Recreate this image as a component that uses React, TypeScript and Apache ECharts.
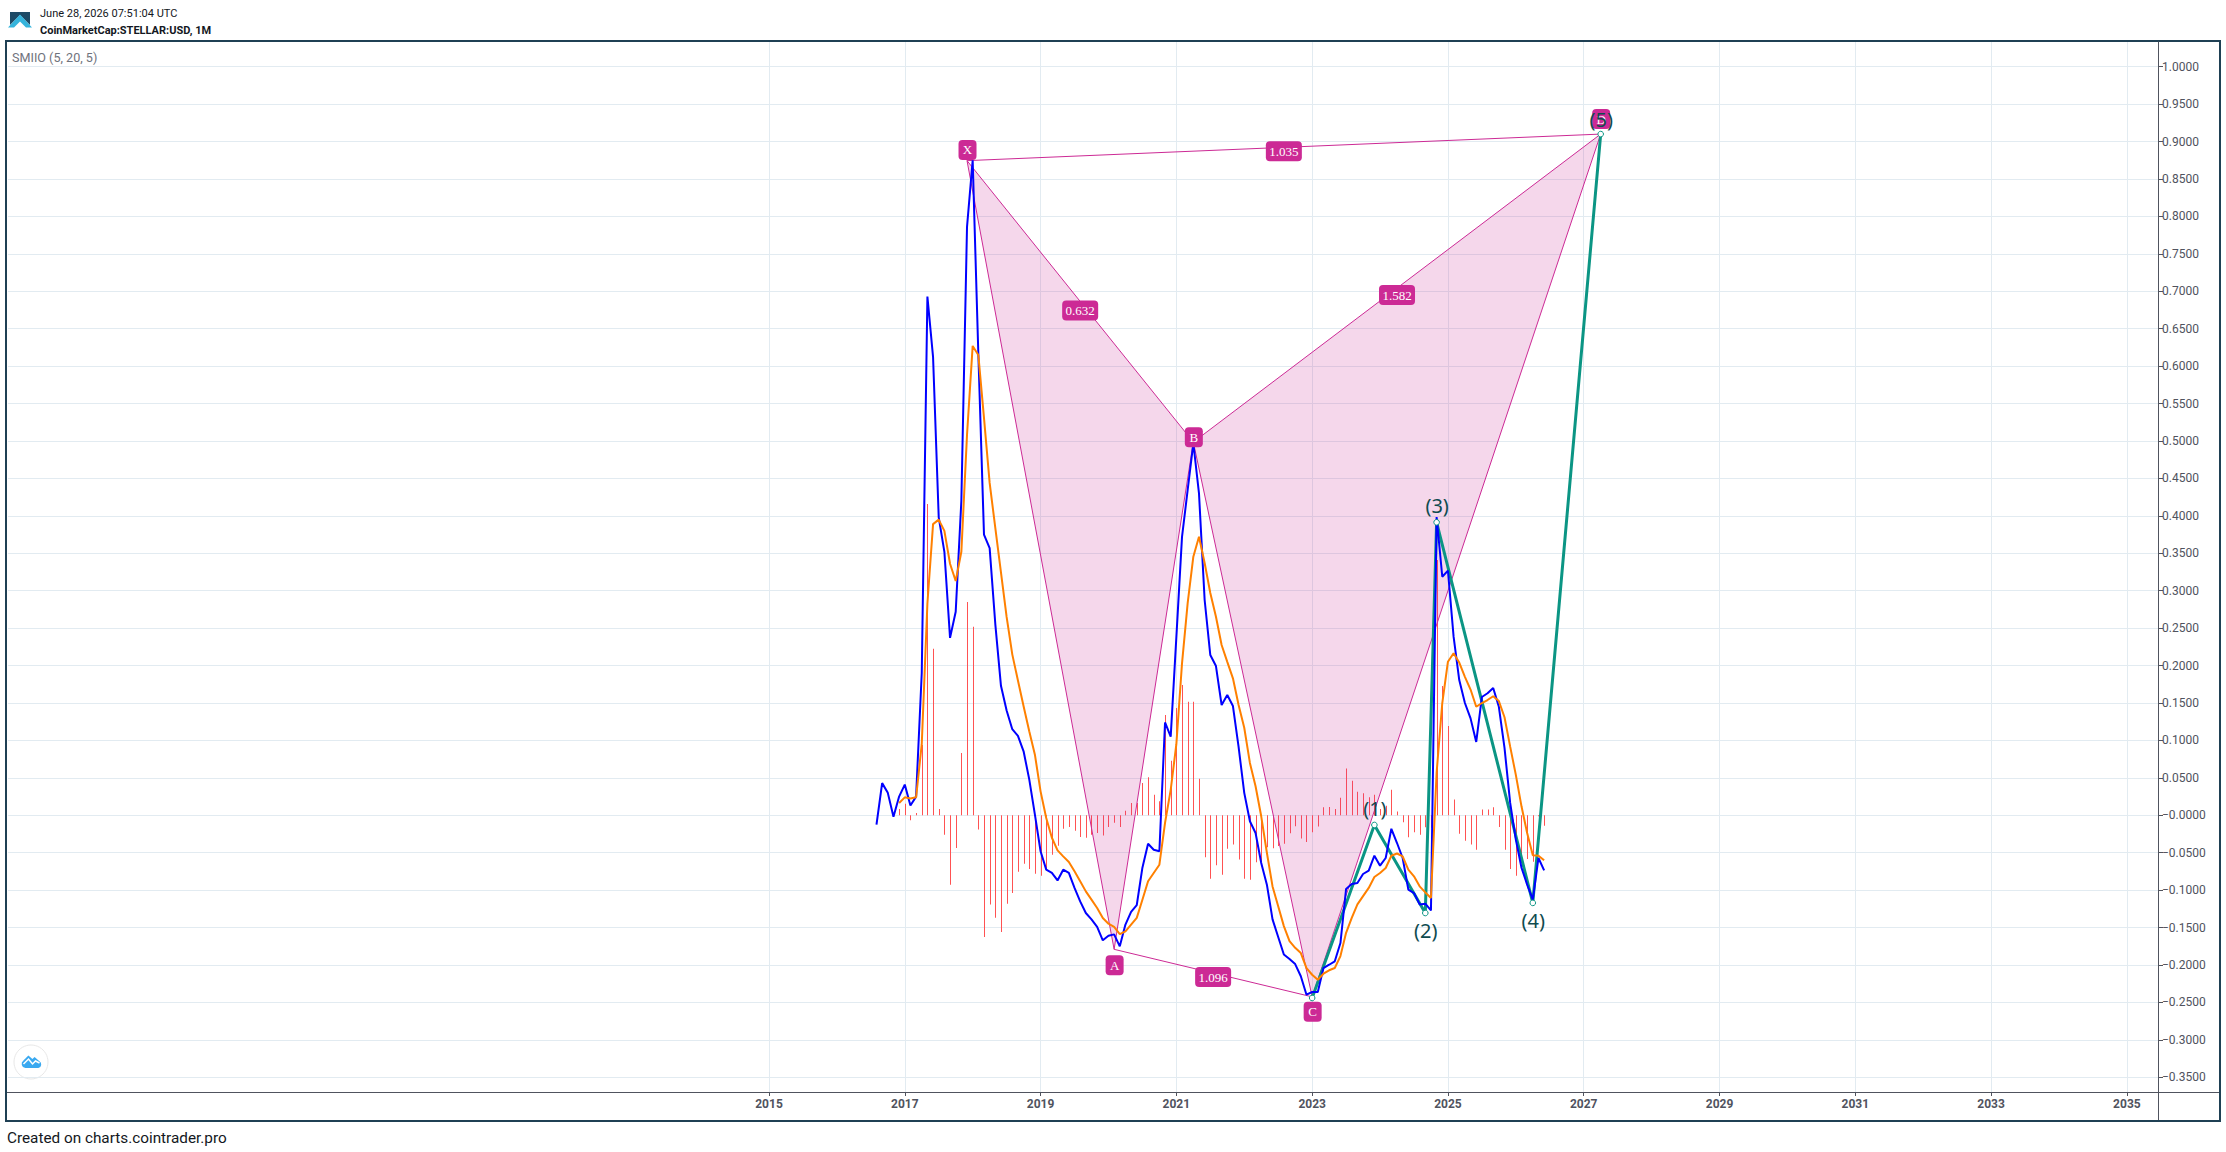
import React, { useEffect, useRef } from "react";
import * as echarts from "echarts";

// ---------- data ----------
const firstCategoryYear = 2003;
const firstCategoryMonth = 11;
const categoryCount = 380;
const xTickYears = ["2015", "2017", "2019", "2021", "2023", "2025", "2027", "2029", "2031", "2033", "2035"];
const yTickValues = [
  1, 0.95, 0.9, 0.85, 0.8, 0.75, 0.7, 0.65, 0.6, 0.55, 0.5, 0.45, 0.4, 0.35, 0.3, 0.25, 0.2, 0.15, 0.1, 0.05, 0,
  -0.05, -0.1, -0.15, -0.2, -0.25, -0.3, -0.35,
];

const smiStart = "2016-08";
const smiValues = [
  -0.0125, 0.043, 0.03, -0.002, 0.025,
  0.041, 0.013, 0.025, 0.19, 0.693, 0.612, 0.398, 0.352, 0.237, 0.272, 0.42, 0.786,
  0.875, 0.617, 0.375, 0.357, 0.2555, 0.173, 0.14, 0.115, 0.106, 0.0855, 0.048, 0.001,
  -0.048, -0.0726, -0.077, -0.087, -0.0726, -0.077, -0.097, -0.115, -0.1305, -0.139, -0.149, -0.167,
  -0.161, -0.159, -0.175, -0.146, -0.129, -0.12, -0.07, -0.038, -0.046, -0.048, 0.124, 0.105,
  0.238, 0.372, 0.4346, 0.497, 0.43, 0.2876, 0.2141, 0.1994, 0.1473, 0.1607, 0.146, 0.0913,
  0.03, -0.008, -0.0236, -0.0637, -0.0927, -0.139, -0.1626, -0.186, -0.192, -0.1987, -0.215, -0.2396,
  -0.236, -0.236, -0.204, -0.1996, -0.195, -0.1706, -0.0984, -0.0918, -0.0904, -0.0784, -0.0739, -0.0539,
  -0.0673, -0.057, -0.018, -0.037, -0.057, -0.0993, -0.1038, -0.119, -0.118, -0.127, 0.3985, 0.3187,
  0.3268, 0.2386, 0.1807, 0.15, 0.1295, 0.098, 0.158, 0.163, 0.17, 0.145, 0.09, 0.0165,
  -0.0325, -0.07, -0.0926, -0.1127, -0.057, -0.0735,
];

const signalStart = "2016-12";
const signalValues = [
  0.0165,
  0.024, 0.0225, 0.024, 0.095, 0.283, 0.389, 0.395, 0.38, 0.336, 0.313, 0.352, 0.508,
  0.627, 0.615, 0.531, 0.444, 0.384, 0.3245, 0.265, 0.215, 0.18, 0.1457, 0.1122, 0.081,
  0.032, -0.0036, -0.03, -0.0468, -0.0548, -0.0624, -0.0748, -0.088, -0.1016, -0.1127, -0.1238, -0.1372,
  -0.1448, -0.149, -0.1586, -0.155, -0.146, -0.137, -0.1127, -0.088, -0.077, -0.066, -0.01, 0.034,
  0.095, 0.203, 0.2835, 0.3455, 0.372, 0.337, 0.297, 0.2653, 0.2275, 0.205, 0.183, 0.1473,
  0.117, 0.07, 0.0388, -0.0013, -0.05, -0.095, -0.1216, -0.148, -0.168, -0.177, -0.184, -0.204,
  -0.213, -0.2196, -0.2116, -0.207, -0.204, -0.188, -0.157, -0.137, -0.119, -0.108, -0.097, -0.0824,
  -0.077, -0.0704, -0.054, -0.051, -0.055, -0.0726, -0.0815, -0.0949, -0.103, -0.1105, 0.057, 0.15,
  0.2052, 0.2164, 0.204, 0.185, 0.168, 0.145, 0.15, 0.154, 0.159, 0.1527, 0.131, 0.0917,
  0.054, 0.012, -0.0236, -0.0535, -0.054, -0.06,
];

const histogramStart = "2016-12";
const histogramValues = [
  0.0085,
  0.0156, -0.0067, 0.003, 0.094, 0.416, 0.2224, 0.0085, -0.0258, -0.0927, -0.0437, 0.0833, 0.285,
  0.2518, -0.019, -0.1626, -0.119, -0.137, -0.156, -0.118, -0.1038, -0.0753, -0.0646, -0.0717, -0.078,
  -0.0806, -0.0726, -0.0526, -0.0405, -0.018, -0.0156, -0.0205, -0.029, -0.03, -0.026, -0.0236, -0.027,
  -0.0156, -0.01, -0.0156, 0.006, 0.0165, 0.0165, 0.043, 0.051, 0.0276, 0.0187, 0.134, 0.073,
  0.1434, 0.174, 0.1518, 0.1518, 0.049, -0.056, -0.0846, -0.0668, -0.0793, -0.0445, -0.039, -0.059,
  -0.0846, -0.086, -0.0628, -0.0624, -0.0427, -0.044, -0.041, -0.038, -0.024, -0.0147, -0.031, -0.0356,
  -0.0227, -0.015, 0.0107, 0.011, 0.0085, 0.0236, 0.0624, 0.0463, 0.0316, 0.0294, 0.024, 0.0276,
  0.0085, 0.0129, 0.0343, 0.005, -0.0094, -0.0294, -0.0227, -0.0258, -0.016, -0.0165, 0.341, 0.1727,
  0.1193, 0.021, -0.0245, -0.034, -0.039, -0.046, 0.0076, 0.0076, 0.0107, -0.0156, -0.046, -0.0717,
  -0.0806, -0.0637, -0.0584, -0.062, -0.0013, -0.0138,
];

// Harmonic pattern
const patternNames = ["X", "A", "B", "C", "D"];
const patternMonths = ["2017-12", "2020-02", "2021-04", "2023-01", "2027-04"];
const patternValues = [0.8745, -0.179, 0.4985, -0.2425, 0.91];
const patternRatios = ["0.632", "1.096", "1.582", "1.035"];
const patternRatioPairs = [[0, 2], [1, 3], [2, 4], [0, 4]];

// Elliott wave
const waveNames = ["", "(1)", "(2)", "(3)", "(4)", "(5)"];
const waveMonths = ["2023-01", "2023-12", "2024-09", "2024-11", "2026-04", "2027-04"];
const waveValues = [-0.244, -0.0129, -0.1305, 0.3914, -0.117, 0.91];

// ---------- layout and style ----------
const GRID = { left: 8, top: 42, width: 2150, height: 1050 };
const Y_MAX = 1.033;
const Y_MIN = -0.3696;
const AXIS_X = 2158;
const RIGHT_EDGE = 2220;
const PINK = "#cc2a95";
const GREEN = "#0b9584";
const WAVE_TEXT = "#0f4b4f";
const BORDER = "#1f4054";
const AXIS = "#50535e";
const GRIDLINE = "#e2ebf1";
const labelDy = [-10.7, 16, -5, 15, -15];
const ratioDy = [9, 4, 7, 4];
const waveDy = [0, -16, 17, -17, 18, -15];

const two = (n: number) => String(n).padStart(2, "0");
const categories: string[] = [];
for (let i = 0; i < categoryCount; i++) {
  const m = firstCategoryMonth - 1 + i;
  categories.push(`${firstCategoryYear + Math.floor(m / 12)}-${two((m % 12) + 1)}`);
}
const indexOf = (month: string) => categories.indexOf(month);
const align = (start: string, values: number[]) => {
  const out: (number | null)[] = categories.map(() => null);
  const s = indexOf(start);
  values.forEach((v, i) => (out[s + i] = v));
  return out;
};
const waveSeries: (number | null)[] = categories.map(() => null);
waveMonths.forEach((m, i) => (waveSeries[indexOf(m)] = waveValues[i]));
const histogramData = histogramValues.map((v, i) => [indexOf(histogramStart) + i, v]);

const isTick = (_: number, value: string) => value.endsWith("-01") && xTickYears.includes(value.slice(0, 4));
const yLabel = (v: number) => (v <= 0 ? "\u2212" : "") + Math.abs(v).toFixed(4);

const renderHistogramBar = (_: any, api: any) => {
  const top = api.coord([api.value(0), api.value(1)]);
  const base = api.coord([api.value(0), 0]);
  const x = Math.floor(top[0] + 0.5);
  const y = Math.min(top[1], base[1]);
  return {
    type: "rect",
    shape: { x, y, width: 1, height: Math.abs(top[1] - base[1]) },
    style: { fill: "#ff5252" },
  };
};

const renderShade = (_: any, api: any) => {
  const p = patternMonths.map((m, i) => api.coord([indexOf(m), patternValues[i]]));
  const fill = { fill: "rgba(204,42,149,0.19)" };
  const stroke = { stroke: PINK, lineWidth: 1, fill: "none" };
  const seg = (a: number, b: number) => ({
    type: "line",
    shape: { x1: p[a][0], y1: p[a][1], x2: p[b][0], y2: p[b][1] },
    style: stroke,
  });
  return {
    type: "group",
    children: [
      { type: "polygon", shape: { points: [p[0], p[1], p[2]] }, style: fill },
      { type: "polygon", shape: { points: [p[2], p[3], p[4]] }, style: fill },
      seg(0, 1), seg(1, 2), seg(0, 2), seg(2, 3), seg(3, 4), seg(2, 4), seg(1, 3), seg(0, 4),
    ],
  };
};

const badge = (cx: number, cy: number, w: number, text: string) => ({
  type: "group",
  children: [
    { type: "rect", shape: { x: cx - w / 2, y: cy - 10, width: w, height: 20, r: 4 }, style: { fill: PINK } },
    {
      type: "text",
      style: {
        x: cx, y: cy, text, fill: "#ffffff",
        font: "13px 'Liberation Serif'", align: "center", verticalAlign: "middle",
      },
    },
  ],
});

const renderBadges = (_: any, api: any) => {
  const p = patternMonths.map((m, i) => api.coord([indexOf(m), patternValues[i]]));
  const children: any[] = patternNames.map((n, i) => badge(p[i][0] + 0.5, p[i][1] + labelDy[i], 18, n));
  patternRatios.forEach((r, i) => {
    const [a, b] = patternRatioPairs[i];
    children.push(badge((p[a][0] + p[b][0]) / 2, (p[a][1] + p[b][1]) / 2 + ratioDy[i], 36, r));
  });
  return { type: "group", children };
};

const renderWaveMarks = (_: any, api: any) => {
  const children: any[] = [];
  waveMonths.forEach((m, i) => {
    const c = api.coord([indexOf(m), waveValues[i]]);
    children.push({
      type: "circle",
      shape: { cx: c[0], cy: c[1], r: 2.8 },
      style: { fill: "#ffffff", stroke: GREEN, lineWidth: 1 },
    });
    if (waveNames[i]) {
      children.push({
        type: "text",
        style: {
          x: c[0] + 0.5, y: c[1] + waveDy[i], text: waveNames[i], fill: WAVE_TEXT,
          font: "20px 'Noto Sans'", align: "center", verticalAlign: "middle",
        },
      });
    }
  });
  return { type: "group", children };
};

const CLOUD = "M5 13 A4.2 4.2 0 0 1 3 5.4 L8 0.5 L12 4 L14.2 2 L19 6.2 A3.7 3.7 0 0 1 18 13 Z";
echarts.graphic.registerShape("cloudLogo", echarts.graphic.extendPath(CLOUD, {}) as any);

const text = (x: number, y: number, t: string, font: string, fill: string) => ({
  type: "text",
  silent: true,
  style: { x, y, text: t, font, fill, align: "left", verticalAlign: "middle" },
});

export default function App() {
  const ref = useRef<HTMLDivElement>(null);
  useEffect(() => {
    const chart = echarts.init(ref.current!, undefined, { renderer: "svg" });
    chart.setOption({
      animation: false,
      backgroundColor: "#ffffff",
      grid: { ...GRID, containLabel: false },
      xAxis: {
        type: "category",
        data: categories,
        boundaryGap: true,
        axisLine: { onZero: false, lineStyle: { color: AXIS, width: 1 } },
        axisTick: { show: true, interval: isTick, alignWithLabel: true, length: 4, lineStyle: { color: AXIS } },
        axisLabel: {
          interval: isTick, margin: 6, hideOverlap: false,
          formatter: (v: string) => v.slice(0, 4),
          fontFamily: "Roboto", fontWeight: "bold", fontSize: 12, color: AXIS,
        },
        splitLine: { show: true, interval: isTick, alignWithLabel: true, lineStyle: { color: GRIDLINE, width: 1 } },
      },
      yAxis: {
        type: "value",
        position: "right",
        min: Y_MIN,
        max: Y_MAX,
        axisLine: { show: true, lineStyle: { color: AXIS, width: 1 } },
        axisTick: { show: true, customValues: yTickValues, length: 5, lineStyle: { color: AXIS } },
        axisLabel: {
          customValues: yTickValues, margin: 4, formatter: yLabel,
          fontFamily: "Roboto", fontSize: 12, color: AXIS,
        },
        splitLine: { show: true, lineStyle: { color: GRIDLINE, width: 1 } },
      },
      series: [
        {
          name: "Histogram", type: "custom", renderItem: renderHistogramBar, data: histogramData,
          encode: { x: 0, y: 1 }, silent: true, z: 1,
        },
        {
          name: "Harmonic", type: "custom", renderItem: renderShade, data: [[0, 0]],
          silent: true, clip: false, z: 2,
        },
        {
          name: "Wave", type: "line", data: waveSeries, connectNulls: true, showSymbol: false,
          silent: true, z: 3, lineStyle: { color: GREEN, width: 3 },
        },
        {
          name: "SMI", type: "line", data: align(smiStart, smiValues), showSymbol: false,
          silent: true, z: 4, lineStyle: { color: "#0000ff", width: 2 },
        },
        {
          name: "Signal", type: "line", data: align(signalStart, signalValues), showSymbol: false,
          silent: true, z: 5, lineStyle: { color: "#ff8000", width: 2 },
        },
        {
          name: "Harmonic labels", type: "custom", renderItem: renderBadges, data: [[0, 0]],
          silent: true, clip: false, z: 6,
        },
        {
          name: "Wave marks", type: "custom", renderItem: renderWaveMarks, data: [[0, 0]],
          silent: true, clip: false, z: 7,
        },
      ],
      graphic: [
        { type: "rect", silent: true, shape: { x: 6, y: 41, width: RIGHT_EDGE - 6, height: 1080 }, style: { fill: "none", stroke: BORDER, lineWidth: 2 } },
        { type: "line", silent: true, shape: { x1: AXIS_X + 0.5, y1: 1092, x2: AXIS_X + 0.5, y2: 1120 }, style: { stroke: AXIS, lineWidth: 1 } },
        { type: "line", silent: true, shape: { x1: AXIS_X, y1: 1092.5, x2: RIGHT_EDGE - 1, y2: 1092.5 }, style: { stroke: AXIS, lineWidth: 1 } },
        { type: "line", silent: true, shape: { x1: 7, y1: 1092.5, x2: 9, y2: 1092.5 }, style: { stroke: AXIS, lineWidth: 1 } },
        // header logo
        { type: "polygon", silent: true, shape: { points: [[10, 12], [30, 12], [30, 25], [20, 15], [10, 25]] }, style: { fill: "#1d4a66" } },
        { type: "polygon", silent: true, shape: { points: [[20, 14.5], [32, 27.5], [26, 27.5], [20, 21.5], [14, 27.5], [8, 27.5]] }, style: { fill: "#35b4dc" } },
        text(40, 13, "June 28, 2026 07:51:04 UTC", "11px Roboto", "#131722"),
        text(40, 30, "CoinMarketCap:STELLAR:USD, 1M", "bold 11px Roboto", "#131722"),
        text(12, 57, "SMIIO (5, 20, 5)", "12.6px Roboto", "#6f727c"),
        text(7, 1138, "Created on charts.cointrader.pro", "15.3px Roboto", "#131722"),
        // watermark
        { type: "circle", silent: true, shape: { cx: 31, cy: 1062, r: 17 }, style: { fill: "#ffffff", stroke: "#e8e8e8", lineWidth: 1 } },
        { type: "cloudLogo", silent: true, x: 20.4, y: 1055, style: { fill: "#3aa9f0" } },
        { type: "polyline", silent: true, shape: { points: [[23.5, 1064], [28.5, 1059], [32.5, 1064], [35.5, 1061], [39.5, 1063]] }, style: { fill: "none", stroke: "#ffffff", lineWidth: 1.5 } },
      ],
    });
    return () => chart.dispose();
  }, []);
  return <div ref={ref} style={{ position: "absolute", left: 0, top: 0, width: 2226, height: 1152 }} />;
}
